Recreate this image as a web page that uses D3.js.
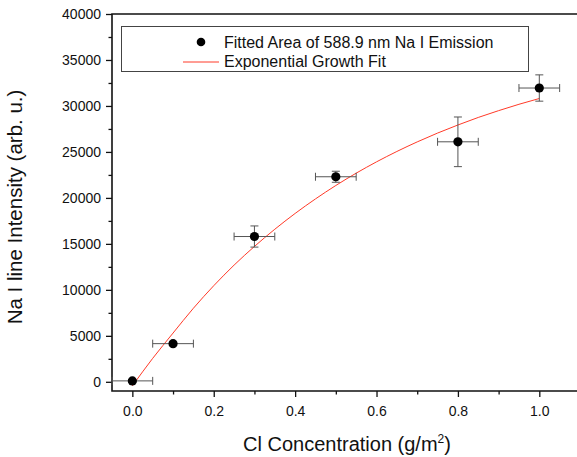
<!DOCTYPE html>
<html>
	<head>
		<meta charset="utf-8"/>
		<script type="text/javascript" src="https://cdn.jsdelivr.net/npm/d3@7/dist/d3.min.js"></script>
		<style>
			body {
				margin:0;
				background:white;
			}
			text {
				font-family:"Liberation Sans", Arial, sans-serif;
				fill:#111;
			}
			.axis_title {
				font-size:20px;
			}
			.legend_text {
				font-size:16px;
			}
		</style>
	</head>
	<body>
		<script>
			// measured points
			var conc = [0.0, 0.1, 0.3, 0.5, 0.8, 1.0];
			var intensity = [100, 4150, 15800, 22300, 26100, 31950];
			var conc_err = [0.05, 0.05, 0.05, 0.05, 0.05, 0.05];
			var intensity_err = [100, 200, 1150, 600, 2700, 1430];

			// fit line
			var fit_x = [0.0, 0.05, 0.1, 0.15, 0.2, 0.25, 0.3, 0.35, 0.4, 0.45, 0.5,
				0.55, 0.6, 0.65, 0.7, 0.75, 0.8, 0.85, 0.9, 0.95, 1.0];
			var fit_y = [-440, 2550, 5300, 8000, 10450, 12690, 14720, 16590, 18310, 19890, 21350,
				22690, 23920, 25050, 26090, 27050, 27930, 28750, 29490, 30180, 30810];

			var x_ticks = [0.0, 0.2, 0.4, 0.6, 0.8, 1.0];
			var x_minor = [0.1, 0.3, 0.5, 0.7, 0.9, 1.1];
			var y_ticks = [0, 5000, 10000, 15000, 20000, 25000, 30000, 35000, 40000];
			var y_minor = [2500, 7500, 12500, 17500, 22500, 27500, 32500, 37500];

			var legend_labels = ["Fitted Area of 588.9 nm Na I Emission", "Exponential Growth Fit"];

			var width = 577, height = 457;
			var plot_left = 112, plot_top = 14, plot_bottom = 391, plot_right = 580;
			var fit_color = "#ff3a28";
			var err_color = "#555";

			var svg = d3.select("body").append("svg")
				.attr("width", width)
				.attr("height", height);

			var x = d3.scaleLinear().domain([-0.05, 1.1]).range([plot_left, plot_right]);
			var y = d3.scaleLinear().domain([-1000, 40000]).range([plot_bottom, plot_top]);

			function drawAxis(g, axis) {
				g.call(axis);
				g.select(".domain").remove();
				g.selectAll(".tick line").attr("stroke", "#111").attr("stroke-width", 1.3);
				g.selectAll(".tick text").attr("fill", "#111")
					.style("font-family", "'Liberation Sans', Arial, sans-serif").style("font-size", "14px");
			}

			drawAxis(svg.append("g").attr("transform", "translate(0," + plot_bottom + ")"),
				d3.axisBottom(x).tickValues(x_ticks).tickSize(6).tickPadding(9).tickFormat(d3.format(".1f")));
			drawAxis(svg.append("g").attr("transform", "translate(0," + plot_bottom + ")"),
				d3.axisBottom(x).tickValues(x_minor).tickSize(3.5).tickFormat(""));
			drawAxis(svg.append("g").attr("transform", "translate(" + plot_left + ",0)"),
				d3.axisLeft(y).tickValues(y_ticks).tickSize(6).tickPadding(5).tickFormat(d3.format("d")));
			drawAxis(svg.append("g").attr("transform", "translate(" + plot_left + ",0)"),
				d3.axisLeft(y).tickValues(y_minor).tickSize(3.5).tickFormat(""));

			// frame lines
			svg.append("path")
				.attr("d", "M" + plot_right + "," + plot_top + "H" + plot_left + "V" + plot_bottom + "H" + plot_right)
				.attr("fill", "none")
				.attr("stroke", "#111")
				.attr("stroke-width", 1.6);

			// fit curve
			var line = d3.line()
				.x(function(d, i) { return x(fit_x[i]); })
				.y(function(d) { return y(d); })
				.curve(d3.curveMonotoneX);
			svg.append("path")
				.attr("d", line(fit_y))
				.attr("fill", "none")
				.attr("stroke", fit_color)
				.attr("stroke-width", 1);

			// error bars
			var cap = 4;
			var eb = svg.append("g").attr("stroke", err_color).attr("stroke-width", 1).attr("fill", "none");
			conc.forEach(function(c, i) {
				var cx = x(c), cy = y(intensity[i]);
				var x0 = x(c - conc_err[i]), x1 = x(c + conc_err[i]);
				var y0 = y(intensity[i] - intensity_err[i]), y1 = y(intensity[i] + intensity_err[i]);
				eb.append("path").attr("d", "M" + x0 + "," + cy + "H" + x1 +
					"M" + x0 + "," + (cy - cap) + "V" + (cy + cap) +
					"M" + x1 + "," + (cy - cap) + "V" + (cy + cap));
				eb.append("path").attr("d", "M" + cx + "," + y0 + "V" + y1 +
					"M" + (cx - cap) + "," + y0 + "H" + (cx + cap) +
					"M" + (cx - cap) + "," + y1 + "H" + (cx + cap));
			});

			svg.selectAll(".dot")
				.data(intensity)
				.enter().append("circle")
				.attr("class", "dot")
				.attr("cx", function(d, i) { return x(conc[i]); })
				.attr("cy", function(d) { return y(d); })
				.attr("r", 4.6)
				.attr("fill", "black");

			// legend
			var lg = svg.append("g");
			lg.append("rect")
				.attr("x", 121.5).attr("y", 26.5)
				.attr("width", 407).attr("height", 45)
				.attr("fill", "white")
				.attr("stroke", "#444")
				.attr("stroke-width", 1);
			lg.append("circle").attr("cx", 201).attr("cy", 42).attr("r", 4.3).attr("fill", "black");
			lg.append("line")
				.attr("x1", 183).attr("x2", 219).attr("y1", 62).attr("y2", 62)
				.attr("stroke", fit_color).attr("stroke-width", 1);
			lg.selectAll(".legend_text")
				.data(legend_labels)
				.enter().append("text")
				.attr("class", "legend_text")
				.attr("x", 224)
				.attr("y", function(d, i) { return 47.5 + i * 19.5; })
				.text(function(d) { return d; });

			// axis titles
			var xt = svg.append("text")
				.attr("class", "axis_title")
				.attr("x", 347)
				.attr("y", 451)
				.attr("text-anchor", "middle");
			xt.append("tspan").text("Cl Concentration (g/m");
			xt.append("tspan").attr("dy", -8).style("font-size", "12px").text("2");
			xt.append("tspan").attr("dy", 8).text(")");

			svg.append("text")
				.attr("class", "axis_title")
				.attr("transform", "translate(22,207) rotate(-90)")
				.attr("text-anchor", "middle")
				.style("font-size", "20.5px")
				.text("Na I line Intensity (arb. u.)");
		</script>
	</body>
</html>
